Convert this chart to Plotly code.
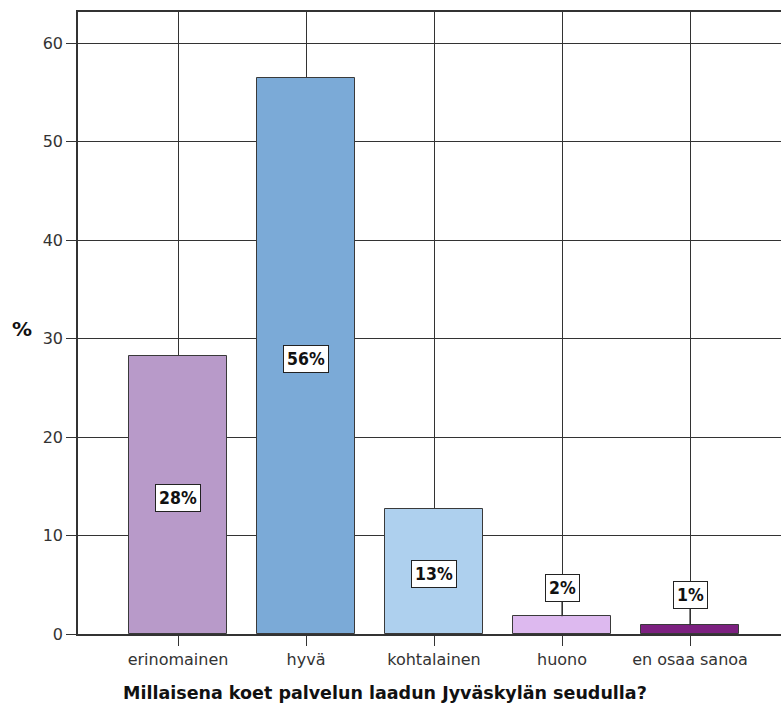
import plotly.graph_objects as go

categories = ["erinomainen", "hyvä", "kohtalainen", "huono", "en osaa sanoa"]
values = [28.2, 56.4, 12.7, 1.8, 0.9]
colors = ["#B89AC9", "#7BAAD7", "#AED0EE", "#DDB9EF", "#7C2080"]
y_ticks = [0, 10, 20, 30, 40, 50, 60]
x_title = "Millaisena koet palvelun laadun Jyväskylän seudulla?"
y_title = "%"

W, H = 781, 709
L, R, T, B = 78, 0, 12, 75
PW = W - L - R
first_x = 178
step = 128
x0 = -(first_x - L) / step
x1 = (W - first_x) / step

xs = list(range(len(categories)))

fig = go.Figure()
fig.add_trace(go.Bar(
    x=xs, y=values, width=0.76,
    marker=dict(color=colors, line=dict(color="#3a3a3a", width=1)),
    hoverinfo="skip",
))

label_font = dict(family="Liberation Sans Narrow, DejaVu Sans Condensed, DejaVu Sans, Arial", size=17.5, color="#111")
for i, v in enumerate(values):
    txt = f"<b>{round(v)}%</b>"
    if v > 5:
        fig.add_annotation(x=i, y=v / 2, xref="x", yref="y", text=txt, showarrow=False,
                           bgcolor="white", bordercolor="#222", borderwidth=1, borderpad=3,
                           font=label_font, yshift=-3)
    else:
        fig.add_annotation(x=i, y=v, xref="x", yref="y", text=txt, showarrow=True,
                           arrowhead=0, arrowwidth=1.2, arrowcolor="#333", ax=0,
                           ay=-28 if v > 1.5 else -30,
                           bgcolor="white", bordercolor="#222", borderwidth=1, borderpad=3,
                           font=label_font)

fig.add_annotation(x=(22 - L) / PW, y=31.0, xref="paper", yref="y", text=f"<b>{y_title}</b>",
                   showarrow=False, font=dict(family="DejaVu Sans, Arial", size=20, color="#111"),
                   xanchor="center")

fig.add_annotation(x=(385 - L) / PW, y=-(693 - (H - B)) / (H - T - B), xref="paper", yref="paper",
                   text=f"<b>{x_title}</b>", showarrow=False, xanchor="center", yanchor="middle",
                   font=dict(family="DejaVu Sans, Arial", size=17.5, color="#111"))

axis_font = dict(family="DejaVu Sans, Arial", size=16, color="#333")
fig.update_layout(
    width=W, height=H,
    margin=dict(l=L, r=R, t=T, b=B),
    paper_bgcolor="white", plot_bgcolor="white",
    showlegend=False,
    bargap=0,
    xaxis=dict(
        range=[x0, x1], tickmode="array", tickvals=xs, ticktext=categories,
        showgrid=True, gridcolor="#333", gridwidth=1.2,
        showline=True, linecolor="#333", linewidth=1.5, mirror=True,
        ticks="outside", ticklen=10, tickcolor="#333",
        tickfont=axis_font, zeroline=False,
    ),
    yaxis=dict(
        range=[0, 63.15], tickmode="array", tickvals=y_ticks,
        showgrid=True, gridcolor="#333", gridwidth=1.2,
        showline=True, linecolor="#333", linewidth=1.5,
        ticks="outside", ticklen=10, tickcolor="#333",
        tickfont=axis_font, zeroline=False,
    ),
)

fig.write_html("out.html")
